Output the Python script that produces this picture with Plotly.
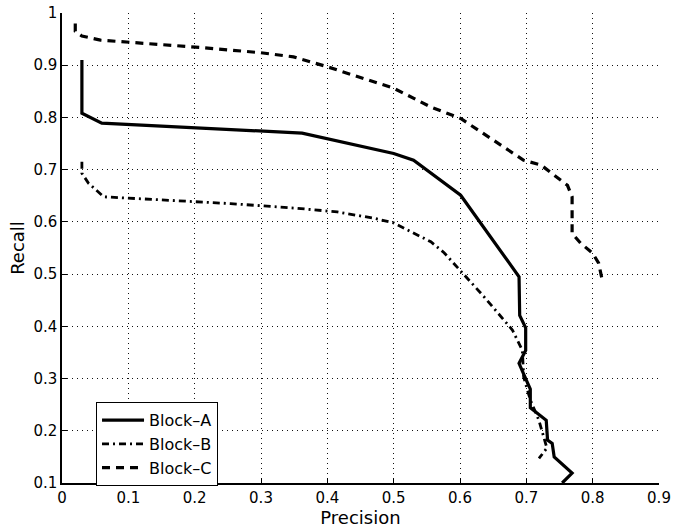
import plotly.graph_objects as go

# Block-A (solid)
a_prec = [0.030, 0.030, 0.060, 0.362, 0.500, 0.530, 0.601, 0.689, 0.690, 0.699, 0.699, 0.689,
          0.699, 0.706, 0.706, 0.730, 0.732, 0.739, 0.742, 0.769, 0.754]
a_rec = [0.910, 0.808, 0.789, 0.770, 0.731, 0.718, 0.651, 0.495, 0.421, 0.397, 0.354, 0.329,
         0.300, 0.280, 0.244, 0.220, 0.182, 0.176, 0.150, 0.119, 0.100]

# Block-B (dash-dot)
b_prec = [0.030, 0.030, 0.040, 0.063, 0.254, 0.355, 0.415, 0.470, 0.500, 0.556, 0.576, 0.636,
          0.679, 0.694, 0.696, 0.706, 0.719, 0.729, 0.731, 0.719]
b_rec = [0.715, 0.693, 0.674, 0.648, 0.635, 0.626, 0.619, 0.607, 0.598, 0.562, 0.541, 0.457,
         0.393, 0.354, 0.303, 0.259, 0.220, 0.176, 0.167, 0.147]

# Block-C (dashed)
c_prec = [0.020, 0.020, 0.030, 0.058, 0.209, 0.254, 0.299, 0.349, 0.400, 0.500, 0.556, 0.601,
          0.696, 0.722, 0.762, 0.769, 0.769, 0.782, 0.800, 0.809, 0.815]
c_rec = [0.980, 0.965, 0.956, 0.948, 0.934, 0.929, 0.924, 0.916, 0.897, 0.856, 0.820, 0.798,
         0.718, 0.709, 0.670, 0.648, 0.578, 0.559, 0.540, 0.521, 0.485]

x_ticks = [0, 0.1, 0.2, 0.3, 0.4, 0.5, 0.6, 0.7, 0.8, 0.9]
x_labels = ["0", "0.1", "0.2", "0.3", "0.4", "0.5", "0.6", "0.7", "0.8", "0.9"]
y_ticks = [0.1, 0.2, 0.3, 0.4, 0.5, 0.6, 0.7, 0.8, 0.9, 1.0]
y_labels = ["0.1", "0.2", "0.3", "0.4", "0.5", "0.6", "0.7", "0.8", "0.9", "1"]

FONT = "DejaVu Sans, Liberation Sans, Arial, sans-serif"

fig = go.Figure()
fig.add_trace(go.Scatter(x=a_prec, y=a_rec, mode="lines", name="Block\u2013A",
                         line=dict(color="black", width=3.2)))
fig.add_trace(go.Scatter(x=b_prec, y=b_rec, mode="lines", name="Block\u2013B",
                         line=dict(color="black", width=2.8, dash="7px,4px,2px,4px")))
fig.add_trace(go.Scatter(x=c_prec, y=c_rec, mode="lines", name="Block\u2013C",
                         line=dict(color="black", width=3.2, dash="8px,6px")))

axis_common = dict(
    showgrid=True, gridcolor="#111", griddash="1px,4px", gridwidth=1,
    showline=True, linecolor="black", linewidth=1.5, mirror=False,
    ticks="inside", ticklen=5, tickcolor="black", tickwidth=1,
    zeroline=False, automargin=False,
    tickfont=dict(family=FONT, size=15, color="black"),
)

fig.update_layout(
    width=673, height=529,
    margin=dict(l=62, r=14, t=13, b=46, autoexpand=False),
    paper_bgcolor="white", plot_bgcolor="white",
    font=dict(family=FONT, size=15, color="black"),
    xaxis=dict(range=[0, 0.9], tickvals=x_ticks, ticktext=x_labels,
               title=dict(text="Precision", font=dict(family=FONT, size=18), standoff=0),
               **axis_common),
    yaxis=dict(range=[0.1, 1.0], tickvals=y_ticks, ticktext=y_labels,
               title=dict(text="Recall", font=dict(family=FONT, size=18), standoff=4),
               **axis_common),
    legend=dict(x=0.057, y=0.172, xanchor="left", yanchor="top",
                bordercolor="black", borderwidth=1, bgcolor="white",
                font=dict(family=FONT, size=16, color="black"),
                tracegroupgap=0, itemwidth=42),
    showlegend=True,
)

fig.write_html("out.html")
